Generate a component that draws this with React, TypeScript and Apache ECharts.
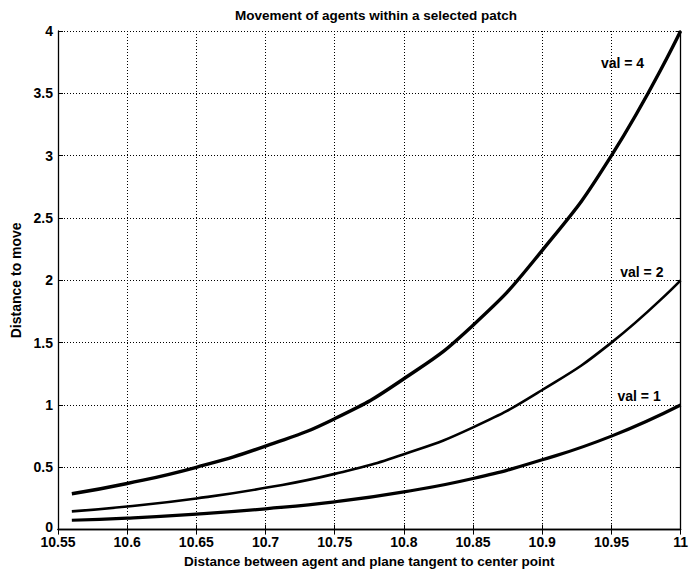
import React, { useEffect, useRef } from "react";
import * as echarts from "echarts";

const xValues = [10.56, 10.6, 10.65, 10.7, 10.75, 10.8, 10.85, 10.9, 10.95, 11];
const val1 = [0.075, 0.092, 0.124, 0.167, 0.223, 0.303, 0.41, 0.56, 0.75, 1.0];
const val2 = [0.146, 0.185, 0.25, 0.335, 0.447, 0.605, 0.82, 1.12, 1.5, 2.0];
const val4 = [0.288, 0.37, 0.5, 0.67, 0.89, 1.21, 1.64, 2.24, 3.0, 4.0];
const seriesNames = ["val = 1", "val = 2", "val = 4"];
const labelCoords: [number, number][] = [
  [10.97, 1.072],
  [10.972, 2.064],
  [10.958, 3.744],
];

const FONT = "'Liberation Sans', Arial, Helvetica, sans-serif";

export default function App() {
  const ref = useRef<HTMLDivElement>(null);
  useEffect(() => {
    if (!ref.current) return;
    const chart = echarts.init(ref.current, undefined, { renderer: "svg" });
    const pair = (ys: number[]) => xValues.map((x, i) => [x, ys[i]]);
    const allY = [val1, val2, val4];
    const widths = [3.2, 2.6, 3.4];
    const fmtX = (v: number) => String(parseFloat(v.toFixed(2)));
    const fmtY = (v: number) => (v === 0 ? "{z|0}" : String(v));
    const tickStyle = { show: true, inside: true, length: 5, lineStyle: { color: "#000", width: 1 } };
    const axisLineStyle = { show: true, lineStyle: { color: "#000", width: 1.3 } };
    const labelFont = { fontFamily: FONT, fontSize: 14, fontWeight: "bold", color: "#000" };
    chart.setOption({
      animation: false,
      backgroundColor: "#fff",
      textStyle: { fontFamily: FONT },
      title: {
        text: "Movement of agents within a selected patch",
        left: 230,
        top: 3,
        textStyle: { fontFamily: FONT, fontSize: 13.5, fontWeight: "bold", color: "#000" },
      },
      grid: { left: 58, right: 8, top: 31, bottom: 42, containLabel: false },
      xAxis: [
        {
          type: "value",
          min: 10.55,
          max: 11,
          interval: 0.05,
          name: "Distance between agent and plane tangent to center point",
          nameLocation: "middle",
          nameGap: 14,
          nameTextStyle: { fontFamily: FONT, fontSize: 13.5, fontWeight: "bold", color: "#000" },
          axisLine: axisLineStyle,
          axisTick: tickStyle,
          axisLabel: { formatter: fmtX, margin: 7, lineHeight: 11, ...labelFont },
          splitLine: { show: true, lineStyle: { color: "#000", width: 1, type: [1, 2] } },
        },
        {
          type: "value",
          position: "top",
          min: 10.55,
          max: 11,
          interval: 0.05,
          axisLine: axisLineStyle,
          axisTick: tickStyle,
          axisLabel: { show: false },
          splitLine: { show: false },
        },
      ],
      yAxis: [
        {
          type: "value",
          min: 0,
          max: 4,
          interval: 0.5,
          name: "Distance to move",
          nameLocation: "middle",
          nameGap: 33,
          nameTextStyle: { fontFamily: FONT, fontSize: 14, fontWeight: "bold", color: "#000" },
          axisLine: axisLineStyle,
          axisTick: tickStyle,
          axisLabel: {
            margin: 5,
            lineHeight: 10,
            formatter: fmtY,
            rich: { z: { ...labelFont, lineHeight: 10, padding: [0, 0, 6, 0] } },
            ...labelFont,
          },
          splitLine: { show: true, lineStyle: { color: "#000", width: 1, type: [1, 2] } },
        },
        {
          type: "value",
          position: "right",
          min: 0,
          max: 4,
          interval: 0.5,
          axisLine: axisLineStyle,
          axisTick: tickStyle,
          axisLabel: { show: false },
          splitLine: { show: false },
        },
      ],
      series: allY.map((ys, k) => ({
        type: "line",
        name: seriesNames[k],
        data: pair(ys),
        smooth: true,
        showSymbol: false,
        lineStyle: { color: "#000", width: widths[k] },
        itemStyle: { color: "#000" },
        markPoint: {
          symbol: "circle",
          symbolSize: 1,
          itemStyle: { color: "rgba(0,0,0,0)" },
          label: {
            show: true,
            position: "inside",
            formatter: seriesNames[k],
            ...labelFont,
          },
          data: [{ coord: labelCoords[k] }],
        },
      })),
    });
    return () => chart.dispose();
  }, []);
  return (
    <div
      ref={ref}
      style={{ position: "absolute", left: 0, top: 0, width: 691, height: 573, background: "#fff" }}
    />
  );
}
